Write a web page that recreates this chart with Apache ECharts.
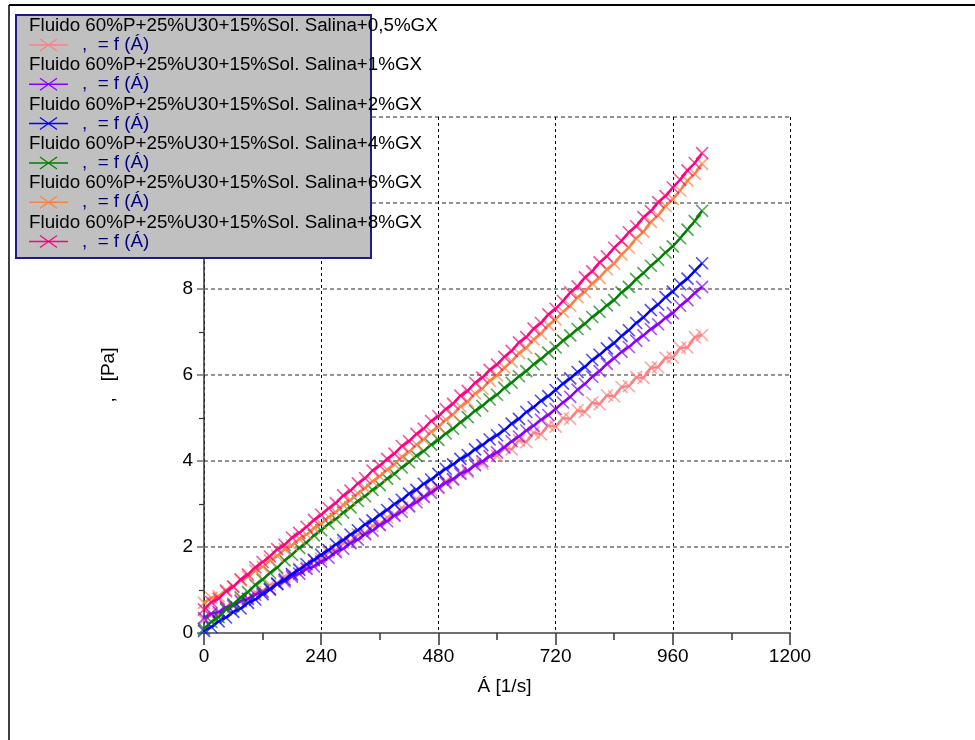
<!DOCTYPE html>
<html><head><meta charset="utf-8">
<script src="https://cdn.jsdelivr.net/npm/echarts@6/dist/echarts.min.js"></script>
<style>html,body{margin:0;padding:0;background:#fff}#c{width:975px;height:740px}</style>
</head><body><div id="c"></div><script>
// ---- data ----
const shearRates = [0,15,30,45,60,75,90,105,120,135,150,165,180,195,210,225,240,255,270,285,300,315,330,345,360,375,390,405,420,435,450,465,480,495,510,525,540,555,570,585,600,615,630,645,660,675,690,705,720,735,750,765,780,795,810,825,840,855,870,885,900,915,930,945,960,975,990,1005,1020];
const seriesNames = [
  'Fluido 60%P+25%U30+15%Sol. Salina+0,5%GX',
  'Fluido 60%P+25%U30+15%Sol. Salina+1%GX',
  'Fluido 60%P+25%U30+15%Sol. Salina+2%GX',
  'Fluido 60%P+25%U30+15%Sol. Salina+4%GX',
  'Fluido 60%P+25%U30+15%Sol. Salina+6%GX',
  'Fluido 60%P+25%U30+15%Sol. Salina+8%GX'
];
const legendSubText = ',  = f (Á)';
const seriesColors = ['#ff8080','#8800ff','#0000ff','#008000','#ff8040','#ff0080'];
const gx05 = [0.30,0.42,0.45,0.60,0.62,0.78,0.80,0.95,0.98,
  1.12,1.16,1.31,1.35,1.50,1.53,1.69,1.73,
  1.88,1.92,2.09,2.12,2.29,2.32,2.49,2.53,
  2.69,2.74,2.91,2.94,3.12,3.15,3.33,3.37,
  3.53,3.56,3.73,3.74,3.92,3.93,4.11,4.12,
  4.30,4.27,4.48,4.44,4.66,4.62,4.83,4.80,
  5.00,4.98,5.18,5.14,5.36,5.32,5.53,5.50,
  5.72,5.74,5.95,5.93,6.17,6.18,6.40,6.41,
  6.63,6.64,6.88,6.93];
const gx1 = [0.35,0.45,0.49,0.59,0.64,0.74,0.79,0.89,0.95,
  1.03,1.14,1.20,1.31,1.38,1.49,1.55,1.66,
  1.75,1.88,1.96,2.09,2.17,2.30,2.38,2.51,
  2.60,2.73,2.82,2.95,3.04,3.17,3.26,3.39,
  3.49,3.58,3.70,3.78,3.90,3.99,4.11,4.20,
  4.32,4.46,4.57,4.71,4.82,4.96,5.07,5.21,
  5.36,5.49,5.66,5.79,5.96,6.09,6.26,6.39,
  6.54,6.65,6.80,6.92,7.07,7.18,7.33,7.44,
  7.61,7.74,7.91,8.05];
const gx2 = [0.05,0.14,0.27,0.36,0.49,0.57,0.70,0.78,0.90,
  1.01,1.14,1.24,1.37,1.47,1.60,1.70,1.82,
  1.93,2.06,2.16,2.29,2.39,2.53,2.62,2.75,
  2.86,3.00,3.10,3.24,3.33,3.47,3.57,3.70,
  3.82,3.92,4.05,4.14,4.27,4.37,4.50,4.60,
  4.72,4.87,4.98,5.14,5.25,5.40,5.51,5.65,
  5.80,5.92,6.07,6.19,6.35,6.47,6.62,6.74,
  6.91,7.04,7.21,7.34,7.51,7.64,7.81,7.94,
  8.11,8.24,8.42,8.60];
const gx4 = [0.10,0.26,0.37,0.55,0.67,0.83,0.95,1.12,1.24,
  1.40,1.52,1.69,1.82,1.98,2.10,2.27,2.39,
  2.54,2.65,2.80,2.92,3.07,3.18,3.33,3.44,
  3.59,3.70,3.85,3.97,4.12,4.23,4.38,4.49,
  4.64,4.75,4.90,5.02,5.17,5.28,5.43,5.54,
  5.70,5.82,5.97,6.09,6.25,6.37,6.52,6.64,
  6.80,6.92,7.07,7.19,7.35,7.47,7.62,7.74,
  7.92,8.05,8.23,8.37,8.54,8.68,8.85,8.99,
  9.18,9.38,9.58,9.82];
const gx6 = [0.70,0.82,0.86,1.00,1.08,1.22,1.31,1.45,1.54,
  1.69,1.79,1.95,2.04,2.19,2.29,2.44,2.54,
  2.70,2.81,2.98,3.09,3.25,3.37,3.53,3.64,
  3.80,3.92,4.10,4.21,4.38,4.50,4.68,4.79,
  4.96,5.08,5.27,5.38,5.57,5.68,5.87,5.99,
  6.17,6.31,6.51,6.63,6.83,6.96,7.16,7.29,
  7.47,7.61,7.81,7.93,8.13,8.26,8.46,8.59,
  8.80,8.96,9.18,9.33,9.56,9.71,9.93,10.09,
  10.29,10.52,10.68,10.91];
const gx8 = [0.55,0.72,0.80,0.97,1.08,1.25,1.36,1.53,1.65,
  1.78,1.95,2.05,2.22,2.33,2.47,2.63,2.75,
  2.90,3.02,3.20,3.31,3.48,3.60,3.78,3.89,
  4.05,4.17,4.35,4.46,4.63,4.75,4.93,5.04,
  5.21,5.33,5.52,5.63,5.82,5.94,6.12,6.24,
  6.42,6.56,6.76,6.88,7.08,7.21,7.41,7.54,
  7.72,7.92,8.06,8.27,8.41,8.62,8.76,8.96,
  9.12,9.32,9.46,9.67,9.81,10.02,10.16,10.36,
  10.54,10.76,10.93,11.16];
const seriesValues = [gx05, gx1, gx2, gx4, gx6, gx8];
const xAxisName = 'Á [1/s]';
const yAxisName = ',   [Pa]';

// ---- chart ----
const FONT = '"Liberation Sans", Arial, sans-serif';
const X_PATH = 'path://M0,0L10,10M10,0L0,10';

const series = seriesValues.map((vals, i) => ({
  name: seriesNames[i],
  type: 'line',
  data: vals.map((v, k) => [shearRates[k], v]),
  symbol: X_PATH,
  symbolSize: [12, 12],
  showAllSymbol: true,
  lineStyle: { color: seriesColors[i], width: 2.4 },
  itemStyle: { color: seriesColors[i], borderColor: seriesColors[i], borderWidth: 1.6, opacity: 0.7 },
  emphasis: { disabled: true },
  z: 2 + i
}));

const LZ = 100;
const legendEls = [{
  type: 'rect', z: LZ, shape: { x: 16, y: 15, width: 355, height: 243 },
  style: { fill: '#c0c0c0', stroke: '#1c1c84', lineWidth: 2 }
}];
seriesNames.forEach((nm, i) => {
  const y1 = 26 + 39.3 * i, y2 = 45 + 39.3 * i;
  legendEls.push({ type: 'text', z: LZ + 1, x: 29, y: y1,
    style: { text: nm, font: '18.8px ' + FONT, fill: '#000', textVerticalAlign: 'middle', verticalAlign: 'middle' } });
  legendEls.push({ type: 'line', z: LZ + 1, shape: { x1: 29, y1: y2, x2: 68, y2: y2 },
    style: { stroke: seriesColors[i], lineWidth: 1.5 } });
  legendEls.push({ type: 'line', z: LZ + 1, shape: { x1: 40, y1: y2 - 6, x2: 57, y2: y2 + 6 },
    style: { stroke: seriesColors[i], lineWidth: 1.2 } });
  legendEls.push({ type: 'line', z: LZ + 1, shape: { x1: 40, y1: y2 + 6, x2: 57, y2: y2 - 6 },
    style: { stroke: seriesColors[i], lineWidth: 1.2 } });
  legendEls.push({ type: 'text', z: LZ + 1, x: 82, y: y2,
    style: { text: legendSubText, font: '18.8px ' + FONT, fill: '#000080', textVerticalAlign: 'middle', verticalAlign: 'middle' } });
});

const option = {
  animation: false,
  backgroundColor: '#fff',
  grid: { left: 204, right: 185, top: 117, bottom: 107, containLabel: false },
  xAxis: {
    type: 'value', min: 0, max: 1200, interval: 240,
    name: xAxisName, nameLocation: 'middle', nameGap: 44,
    nameTextStyle: { fontFamily: FONT, fontSize: 19, color: '#000', padding: [0, 0, 0, 15] },
    axisLine: { show: true, onZero: false, lineStyle: { color: '#707070', width: 2 } },
    axisTick: { show: true, length: 12, lineStyle: { color: '#333', width: 1.5 } },
    minorTick: { show: true, splitNumber: 2, length: 7, lineStyle: { color: '#333', width: 1.5 } },
    axisLabel: { fontFamily: FONT, fontSize: 19, color: '#000', margin: 14, formatter: v => String(v) },
    splitLine: { show: true, lineStyle: { color: '#000', width: 1, type: [3, 3] } }
  },
  yAxis: {
    type: 'value', min: 0, max: 12, interval: 2,
    name: yAxisName, nameLocation: 'middle', nameGap: 86, nameRotate: 90,
    nameTextStyle: { fontFamily: FONT, fontSize: 19, color: '#000' },
    axisLine: { show: true, onZero: false, lineStyle: { color: '#333', width: 1.5 } },
    axisTick: { show: true, length: 7, lineStyle: { color: '#707070', width: 1.5 } },
    minorTick: { show: true, splitNumber: 2, length: 5, lineStyle: { color: '#333', width: 1.2 } },
    axisLabel: { fontFamily: FONT, fontSize: 19, color: '#000', margin: 11, formatter: v => String(v) },
    splitLine: { show: true, lineStyle: { color: '#707070', width: 1.5, type: [4, 3] } }
  },
  legend: { show: false },
  tooltip: { show: false },
  series: series,
  graphic: [
    { type: 'line', z: 50, shape: { x1: 9, y1: 5, x2: 975, y2: 5 }, style: { stroke: '#000', lineWidth: 2 } },
    { type: 'line', z: 50, shape: { x1: 9, y1: 5, x2: 9, y2: 740 }, style: { stroke: '#000', lineWidth: 1.5 } },
    { type: 'group', z: LZ, zlevel: 1, children: legendEls }
  ]
};
const chart = echarts.init(document.getElementById('c'), null, { renderer: 'canvas' });
chart.setOption(option);
</script></body></html>
